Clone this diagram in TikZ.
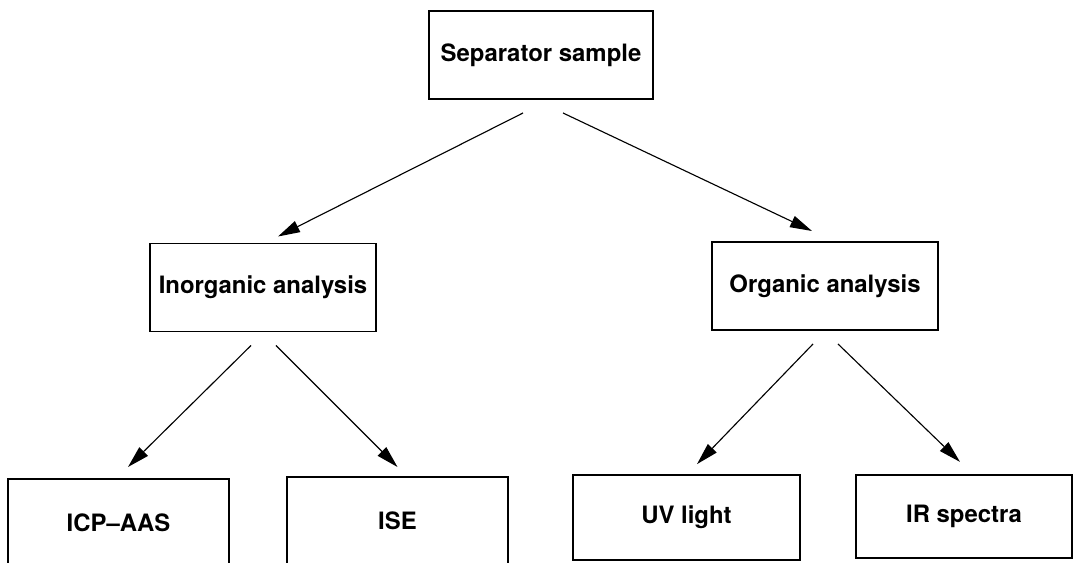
\documentclass[tikz,border=0pt]{standalone}
\usepackage{fontspec}
\setmainfont{TeX Gyre Heros}
\usetikzlibrary{arrows.meta}
\usetikzlibrary{calc}

\tikzset{
  box/.style={draw, line width=1.4pt, inner sep=0pt,
    minimum width=5.6cm, minimum height=2.2cm,
    font=\bfseries\fontsize{17}{20}\selectfont},
  arr/.style={line width=0.8pt, -{Triangle[length=0.55cm, width=0.3cm]}}
}

\begin{document}
\begin{tikzpicture}[x=0.025cm, y=-0.025cm]
      \clip (0,0) rectangle (1074,563);

      \node[box] (sep) at (541,55) {Separator sample};
      \node[box, minimum width=5.65cm] (inorg) at (263,287.5) {Inorganic analysis};
      \node[box, minimum width=5.65cm] (org) at (825,286) {Organic analysis};

      \node[box, minimum width=5.52cm] (icp) at (118.5,523) {ICP--AAS};
      \node[box, minimum width=5.52cm] (ise) at (397.5,521) {ISE};
      \node[box, minimum width=5.67cm, minimum height=2.12cm] (uv) at (686.5,517.5) {UV light};
      \node[box, minimum width=5.4cm, minimum height=2.08cm] (ir) at (964,516.5) {IR spectra};

      \draw[arr] ($(sep.south)+(-18,13)$) -- ($(inorg.north)+(15,-6)$);
      \draw[arr] ($(sep.south)+(22,13)$) -- ($(org.north)+(-13,-10)$);

      \draw[arr] ($(inorg.south)+(-12,13)$) -- ($(icp.north)+(9.5,-11)$);
      \draw[arr] ($(inorg.south)+(13,13)$) -- ($(ise.north)+(0,-9)$);

      \draw[arr] ($(org.south)+(-12,13)$) -- ($(uv.north)+(10.5,-10)$);
      \draw[arr] ($(org.south)+(13,13)$) -- ($(ir.north)+(-4,-12)$);

    \end{tikzpicture}
\end{document}
